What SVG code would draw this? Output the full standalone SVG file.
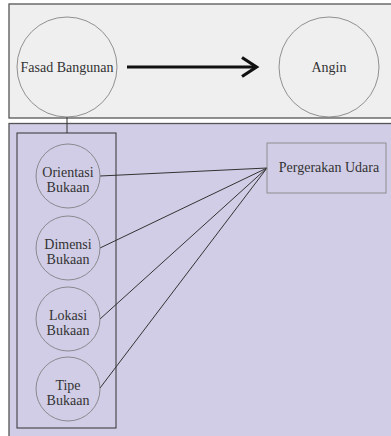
<svg xmlns="http://www.w3.org/2000/svg" width="391" height="436" viewBox="0 0 391 436">
<style>
.panel{stroke:#555;stroke-width:1.3}
.c{fill:none;stroke:#777;stroke-width:0.8}
.t{font-family:"Liberation Serif","Times New Roman",serif;font-size:14px;fill:#333;text-anchor:middle}
.ln{stroke:#333;stroke-width:1;fill:none}
</style>
<rect width="391" height="436" fill="#ffffff"/>
<g id="top-panel">
<rect class="panel" x="9" y="4" width="390" height="114" fill="#efefef"/>
</g>
<g id="bottom-panel">
<rect class="panel" x="9" y="123.5" width="390" height="320" fill="#d1cde6"/>
<rect class="ln" x="17" y="133" width="99" height="295" stroke="#444"/>
</g>
<g id="connectors">
<line x1="67" y1="117" x2="67" y2="133" class="ln"/>
<line x1="127" y1="67" x2="256" y2="67" stroke="#111" stroke-width="3.2"/>
<polyline points="242,57.5 256.5,67 242,76.5" fill="none" stroke="#111" stroke-width="3.2"/>
<line x1="100" y1="176" x2="267" y2="168" class="ln"/>
<line x1="100" y1="248" x2="267" y2="168" class="ln"/>
<line x1="100" y1="319" x2="267" y2="168" class="ln"/>
<line x1="100" y1="388" x2="267" y2="168" class="ln"/>
</g>
<g id="fasad">
<circle class="c" cx="67" cy="67" r="50"/>
<text class="t" x="67" y="72">Fasad Bangunan</text>
</g>
<g id="angin">
<circle class="c" cx="329" cy="67" r="50"/>
<text class="t" x="329" y="72">Angin</text>
</g>
<g id="orientasi">
<circle class="c" cx="68" cy="176" r="32"/>
<text class="t" x="68" y="177">Orientasi</text>
<text class="t" x="68" y="192">Bukaan</text>
</g>
<g id="dimensi">
<circle class="c" cx="68" cy="248" r="32"/>
<text class="t" x="68" y="249">Dimensi</text>
<text class="t" x="68" y="264">Bukaan</text>
</g>
<g id="lokasi">
<circle class="c" cx="68" cy="319" r="32"/>
<text class="t" x="68" y="320">Lokasi</text>
<text class="t" x="68" y="335">Bukaan</text>
</g>
<g id="tipe">
<circle class="c" cx="68" cy="389" r="32"/>
<text class="t" x="68" y="390">Tipe</text>
<text class="t" x="68" y="405">Bukaan</text>
</g>
<g id="pergerakan">
<rect x="267" y="143" width="119" height="50" fill="none" stroke="#888" stroke-width="0.9"/>
<text class="t" x="329" y="172">Pergerakan Udara</text>
</g>
</svg>
